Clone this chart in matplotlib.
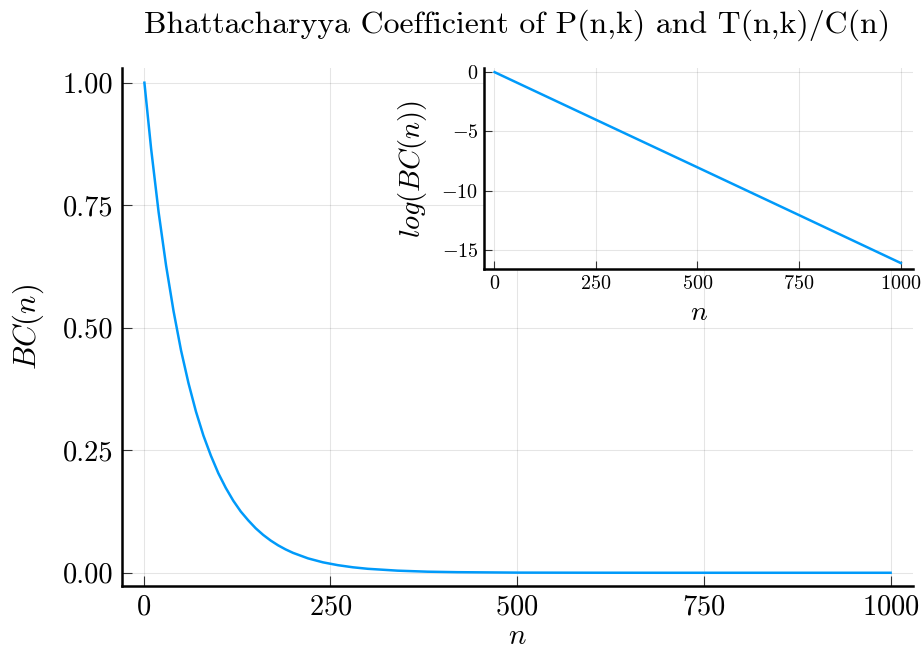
import matplotlib
matplotlib.use("Agg")
import matplotlib.pyplot as plt
from matplotlib.ticker import FormatStrFormatter

# Computer Modern look for all text
plt.rcParams["font.family"] = "cmr10"
plt.rcParams["mathtext.fontset"] = "cm"
plt.rcParams["axes.formatter.use_mathtext"] = True

# Bhattacharyya coefficient BC(n)
n_vals = [1, 10, 20, 30, 40, 50, 60, 70, 80, 90, 100, 110, 120, 130, 140, 150,
          160, 170, 180, 190, 200, 220, 240, 260, 280, 300, 340, 380, 420, 500,
          600, 700, 800, 900, 1000]
bc_vals = [1.000, 0.865, 0.736, 0.627, 0.534, 0.454, 0.387, 0.329, 0.280, 0.239,
           0.203, 0.173, 0.147, 0.125, 0.107, 0.0908, 0.0773, 0.0658, 0.0560,
           0.0477, 0.0406, 0.0294, 0.0213, 0.0155, 0.0112, 0.0081, 0.0043,
           0.0022, 0.0012, 0.0003, 0.0001, 0.0, 0.0, 0.0, 0.0]

# log(BC(n)) for the inset
n_log = [1, 250, 500, 750, 1000]
log_bc = [0.0, -4.01, -8.03, -12.06, -16.1]

x_ticks = [0, 250, 500, 750, 1000]
main_y_ticks = [0.0, 0.25, 0.5, 0.75, 1.0]
inset_y_ticks = [0, -5, -10, -15]

line_color = "#009AFA"
W, H = 924, 648


def style_axes(ax, tick_len, width):
    for side in ["top", "right"]:
        ax.spines[side].set_visible(False)
    for side in ["left", "bottom"]:
        ax.spines[side].set_linewidth(width)
    ax.grid(True, color="black", alpha=0.1, linewidth=0.8)
    ax.set_axisbelow(True)
    ax.tick_params(direction="in", length=tick_len, width=0.8, color="#333333")


fig = plt.figure(figsize=(W / 100, H / 100), dpi=100)

# main panel
ax = fig.add_axes([122 / W, (H - 586) / H, (913 - 122) / W, (586 - 68) / H])
ax.plot(n_vals, bc_vals, color=line_color, linewidth=1.8)
ax.set_xlim(-29, 1030)
ax.set_ylim(-0.027, 1.03)
ax.set_xticks(x_ticks)
ax.set_yticks(main_y_ticks)
ax.yaxis.set_major_formatter(FormatStrFormatter("%.2f"))
ax.tick_params(labelsize=20.5, pad=6)
style_axes(ax, 7, 1.8)
ax.set_xlabel(r"$n$", fontsize=21, labelpad=2)
ax.set_ylabel(r"$BC(n)$", fontsize=22, labelpad=12)
fig.text(517 / W, 1 - 25 / H, "Bhattacharyya Coefficient of P(n,k) and T(n,k)/C(n)",
         fontsize=22.9, ha="center", va="center")

# inset with the log scale
ins = fig.add_axes([484 / W, (H - 269) / H, (913 - 484) / W, (269 - 68) / H])
ins.set_facecolor("white")
ins.plot(n_log, log_bc, color=line_color, linewidth=1.8)
ins.set_xlim(-25, 1030)
ins.set_ylim(-16.6, 0.35)
ins.set_xticks(x_ticks)
ins.set_yticks(inset_y_ticks)
ins.tick_params(labelsize=14.5, pad=4)
style_axes(ins, 6, 1.8)
ins.set_xlabel(r"$n$", fontsize=20, labelpad=5)
ins.set_ylabel(r"$log(BC(n))$", fontsize=20.5, labelpad=9)

fig.savefig("out.png", dpi=100, facecolor="white")
